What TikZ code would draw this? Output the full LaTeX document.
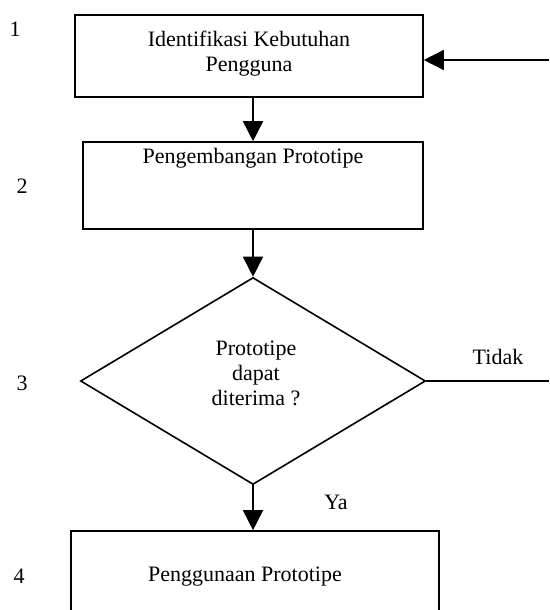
\documentclass[tikz,border=0pt]{standalone}
\usepackage{fontspec}
\setmainfont{Liberation Serif}
\usetikzlibrary{arrows.meta,shapes.geometric,calc}
\begin{document}
\begin{tikzpicture}[x=1pt,y=-1pt,
  every node/.style={font=\fontsize{22}{26}\selectfont},
  boxstyle/.style={draw,line width=1.6pt,inner sep=0pt},
  txt/.style={inner sep=0pt,align=center},
  arr/.style={line width=1.6pt,-{Triangle[length=20pt,width=20pt]}},
  plain/.style={line width=1.6pt}]
\useasboundingbox (0,0) rectangle (549,610);
\clip (0,0) rectangle (549,610);
% boxes
\node[boxstyle,minimum width=348pt,minimum height=82pt] (box1) at (249,56) {};
\node[txt] (t1) at (249,54) {Identifikasi Kebutuhan\\[-1pt]Pengguna};
\node[boxstyle,minimum width=340pt,minimum height=87pt] (box2) at (253,185.5) {};
\node[txt] (t2) at (253,158) {Pengembangan Prototipe};
\node[boxstyle,diamond,minimum width=345pt,minimum height=207pt] (dia) at (253,381) {};
\node[txt] (t3) at (256,373) {Prototipe\\[-1pt]dapat\\[-1pt]diterima ?};
\node[boxstyle,minimum width=368pt,minimum height=120pt] (box4) at (255,591) {};
\node[txt] (t4) at (245,577) {Penggunaan Prototipe};
% step numbers
\node[txt] (n1) at (15,29) {1};
\node[txt] (n2) at (22,186) {2};
\node[txt] (n3) at (22,383) {3};
\node[txt] (n4) at (19,576) {4};
% branch labels
\node[txt] (tidak) at (498,357) {Tidak};
\node[txt] (ya) at (336,502) {Ya};
% connectors
\coordinate (fb) at (549,60);
\coordinate (tend) at (549,381);
\draw[arr] (box2.north |- box1.south) -- (box2.north);
\draw[arr] (box2.south) -- (dia.north);
\draw[arr] (dia.south) -- (dia.south |- box4.north);
\draw[arr] (fb) -- (fb -| box1.east);
\draw[plain] (dia.east) -- (tend);
\end{tikzpicture}
\end{document}
